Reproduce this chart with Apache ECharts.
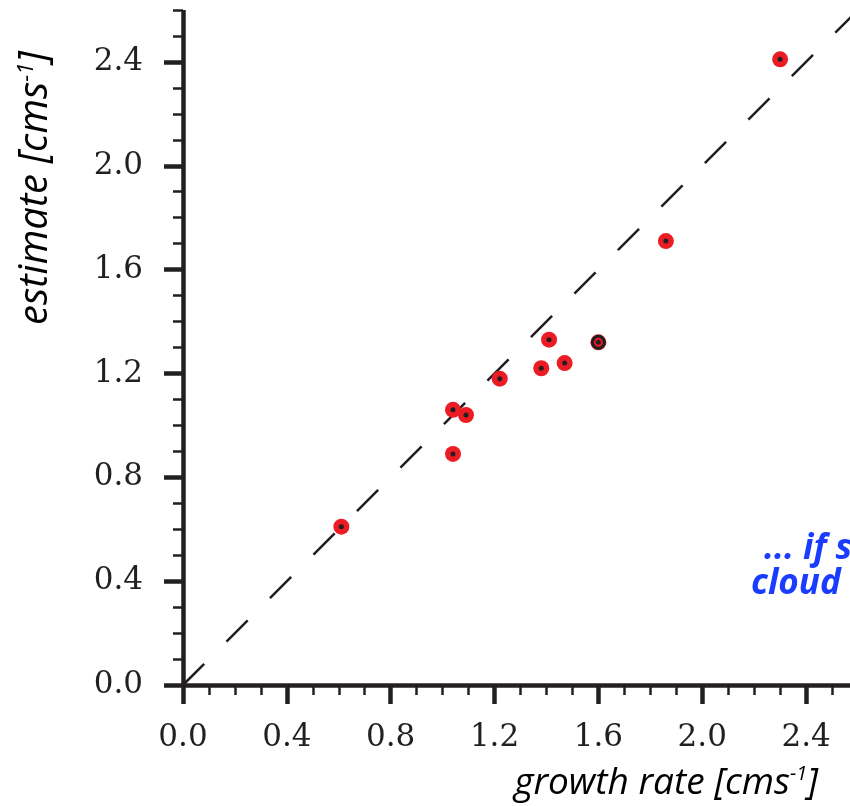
<!DOCTYPE html>
<html><head><meta charset="utf-8">
<script src="https://cdn.jsdelivr.net/npm/echarts@6/dist/echarts.min.js"></script>
<style>html,body{margin:0;padding:0;background:#fff}#c{width:850px;height:806px}</style>
</head><body><div id="c"></div>
<script>
// ---- data ----
const growthRate = [0.61, 1.04, 1.09, 1.04, 1.22, 1.38, 1.41, 1.47, 1.60, 1.86, 2.30];
const estimate   = [0.61, 1.06, 1.04, 0.89, 1.18, 1.22, 1.33, 1.24, 1.32, 1.71, 2.41];
const ringedX = [1.60];
const ringedY = [1.32];
const majorTicks = [0, 0.4, 0.8, 1.2, 1.6, 2.0, 2.4];
const axisMin = 0;
const axisMax = 2.6;
const minorStep = 0.1;
const identityLine = [[0, 0], [2.6, 2.6]];
const xTitleMain = 'growth rate [cms';
const yTitleMain = 'estimate [cms';
const titleSup = '-1';
const titleEnd = ']';
const noteLines = ['... if s', 'cloud'];

// ---- build ----
const INK = '#231f20';
const RED = '#ec1c24';
const points = growthRate.map((x, i) => [x, estimate[i]]);
const ringed = ringedX.map((x, i) => [x, ringedY[i]]);

function mainAxis(isX) {
  return {
    type: 'value', min: axisMin, max: axisMax, interval: minorStep,
    position: isX ? 'bottom' : 'left',
    axisLine: { show: true, onZero: false, lineStyle: { color: INK, width: 4.5, cap: 'butt' } },
    axisTick: { show: true, length: 10, lineStyle: { color: INK, width: 2.5 } },
    axisLabel: {
      show: true, customValues: majorTicks,
      formatter: v => v.toFixed(1),
      margin: isX ? 37 : 40,
      fontFamily: 'DejaVu Serif', fontSize: 31, color: INK
    },
    splitLine: { show: false }
  };
}
function majorAxis(isX) {
  return {
    type: 'value', min: axisMin, max: axisMax, interval: minorStep,
    position: isX ? 'bottom' : 'left',
    axisLine: { show: false, onZero: false },
    axisTick: { show: true, customValues: majorTicks, length: 19, lineStyle: { color: INK, width: 4.5 } },
    axisLabel: { show: false },
    splitLine: { show: false }
  };
}

function titleRich(size) {
  return {
    a: { fontFamily: 'Open Sans', fontStyle: 'italic', fontSize: size, color: INK },
    s: { fontFamily: 'Open Sans', fontStyle: 'italic', fontSize: Math.round(size * 0.55), color: INK, verticalAlign: 'top' }
  };
}
const richText = t => '{a|' + t + '}{s|' + titleSup + '}{a|' + titleEnd + '}';

const chart = echarts.init(document.getElementById('c'), null, { renderer: 'canvas' });
chart.setOption({
  backgroundColor: '#ffffff',
  animation: false,
  grid: { left: 183, top: 10, right: -8, bottom: 121, containLabel: false, outerBoundsMode: 'none' },
  xAxis: [mainAxis(true), majorAxis(true)],
  yAxis: [mainAxis(false), majorAxis(false)],
  series: [
    {
      type: 'line', data: identityLine, symbol: 'none', silent: true, z: 1,
      lineStyle: { color: INK, width: 2.5, type: [30, 31.5] }
    },
    {
      type: 'scatter', data: points, symbol: 'circle', symbolSize: 16, z: 2,
      itemStyle: { color: RED, opacity: 1 }
    },
    {
      type: 'scatter', data: ringed, symbol: 'circle', symbolSize: 12, z: 3,
      itemStyle: { color: RED, borderColor: INK, borderWidth: 3, opacity: 1 }
    },
    {
      type: 'scatter', data: points, symbol: 'circle', symbolSize: 5, z: 4,
      itemStyle: { color: INK, opacity: 1 }
    }
  ],
  graphic: [
    {
      type: 'text', x: 818, y: 783,
      style: { text: richText(xTitleMain), rich: titleRich(37), align: 'right', verticalAlign: 'middle' }
    },
    {
      type: 'text', x: 36, y: 188, rotation: Math.PI / 2,
      style: { text: richText(yTitleMain), rich: titleRich(40), align: 'center', verticalAlign: 'middle' }
    },
    {
      type: 'text', x: 764, y: 549,
      style: { text: noteLines[0], fontFamily: 'Open Sans', fontStyle: 'italic', fontWeight: 'bold', fontSize: 35, fill: '#1a3cff', align: 'left', verticalAlign: 'middle' }
    },
    {
      type: 'text', x: 751, y: 584,
      style: { text: noteLines[1], fontFamily: 'Open Sans', fontStyle: 'italic', fontWeight: 'bold', fontSize: 35, fill: '#1a3cff', align: 'left', verticalAlign: 'middle' }
    }
  ]
});
</script>
</body></html>
